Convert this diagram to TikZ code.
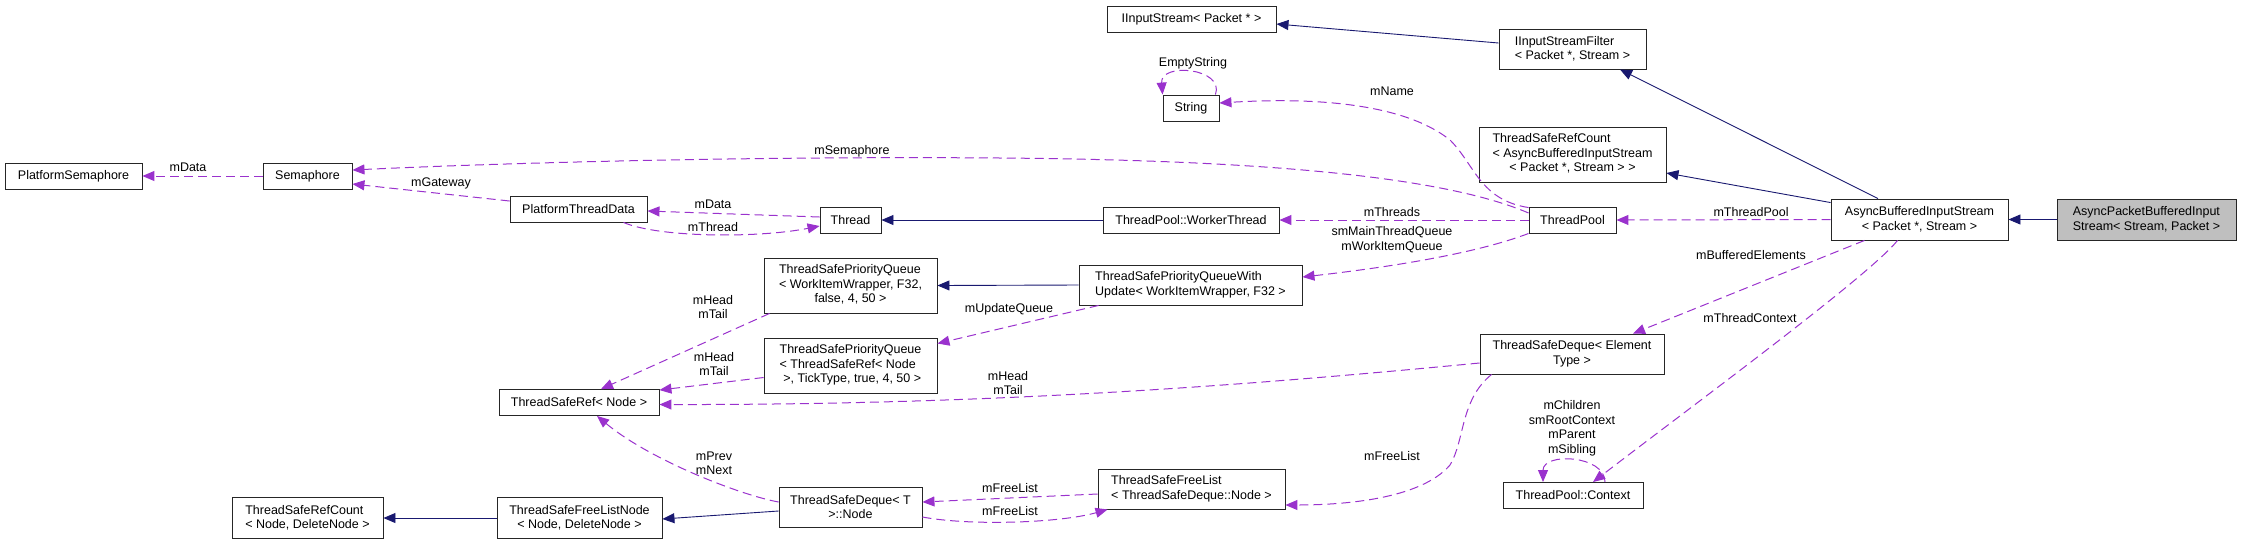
\documentclass[tikz,border=0pt]{standalone}
\usepackage{fontspec}
\setmainfont{Liberation Sans}
\usetikzlibrary{arrows.meta,calc}
\definecolor{inhcol}{HTML}{191970}
\definecolor{usecol}{HTML}{9A32CD}
\definecolor{rootfill}{HTML}{BFBFBF}
\begin{document}
\begin{tikzpicture}[x=1pt,y=-1pt,
  font=\fontsize{12.5}{14.5}\selectfont,
  box/.style args={#1/#2}{draw=black!85, line width=0.9pt, fill=white, rectangle, inner sep=0pt, minimum width=#1pt, minimum height=#2pt},
  inh/.style={draw=inhcol, line width=0.9pt, -{Triangle[length=12pt,width=10pt]}},
  use/.style={draw=usecol, line width=1.0pt, dash pattern=on 9pt off 5pt, -{Triangle[length=12pt,width=10pt]}},
  lbl/.style={inner sep=0pt, align=center}
]
\useasboundingbox (0,0) rectangle (2241,550);

% nodes
\node[box=137/26] (psem) at (73.5,176) {PlatformSemaphore};
\node[box=89/26] (sem) at (307.5,176) {Semaphore};
\node[box=137/26] (ptd) at (578.5,209) {PlatformThreadData};
\node[box=61/26] (thr) at (850.5,220) {Thread};
\node[box=176/26] (wt) at (1191,220) {ThreadPool::WorkerThread};
\node[box=87/26] (tp) at (1572.5,220) {ThreadPool};
\node[box=177/41, align=center] (abis) at (1919.5,219.5) {AsyncBufferedInputStream\\< Packet *, Stream >};
\node[box=179/41, fill=rootfill, align=left] (apbis) at (2146.5,219.5) {AsyncPacketBufferedInput\\Stream< Stream, Packet >};
\node[box=169/26] (iis) at (1191.5,19) {IInputStream< Packet * >};
\node[box=147/40, align=left] (iisf) at (1572.5,49) {IInputStreamFilter\\< Packet *, Stream >};
\node[box=56/26] (str) at (1191,108) {String};
\node[box=187/55] (trcA) at (1572.5,154.5) {\begin{tabular}{@{}l@{}}ThreadSafeRefCount\\< AsyncBufferedInputStream\\\multicolumn{1}{@{}c@{}}{< Packet *, Stream > >}\end{tabular}};
\node[box=173/55] (pqA) at (850.5,285.5) {\begin{tabular}{@{}l@{}}ThreadSafePriorityQueue\\< WorkItemWrapper, F32,\\\multicolumn{1}{@{}c@{}}{false, 4, 50 >}\end{tabular}};
\node[box=223/40, align=left] (pqwu) at (1190.5,285) {ThreadSafePriorityQueueWith\\Update< WorkItemWrapper, F32 >};
\node[box=173/55] (pqB) at (850.5,365.5) {\begin{tabular}{@{}l@{}}ThreadSafePriorityQueue\\< ThreadSafeRef< Node\\\multicolumn{1}{@{}c@{}}{\ >, TickType, true, 4, 50 >}\end{tabular}};
\node[box=160/26] (tsr) at (579,402.5) {ThreadSafeRef< Node >};
\node[box=184/40, align=center] (tsdE) at (1572,354) {ThreadSafeDeque< Element\\Type >};
\node[box=151/41, align=left] (trcN) at (307.5,518) {ThreadSafeRefCount\\< Node, DeleteNode >};
\node[box=165/41, align=center] (tfln) at (579.5,518) {ThreadSafeFreeListNode\\< Node, DeleteNode >};
\node[box=143/40, align=center] (tsdN) at (850.5,507) {ThreadSafeDeque< T\\>::Node};
\node[box=187/40, align=left] (tfl) at (1191.5,489) {ThreadSafeFreeList\\< ThreadSafeDeque::Node >};
\node[box=140/26] (ctx) at (1573,495.5) {ThreadPool::Context};

% inheritance
\draw[inh] (apbis.west) -- (abis.east);
\draw[inh] ($(abis.north)+(-41.5,0)$) -- ($(iisf.south)+(47.5,0)$);
\draw[inh] ($(abis.north west)+(0,4)$) -- ($(trcA.east)+(0,18.5)$);
\draw[inh] ($(iisf.west)+(0,-6)$) -- ($(iis.east)+(0,5)$);
\draw[inh] (wt.west) -- (thr.east);
\draw[inh] (pqwu.west) -- (pqA.east);
\draw[inh] (tfln.west) -- (trcN.east);
\draw[inh] ($(tsdN.west)+(0,4)$) -- ($(tfln.east)+(0,1)$);

% usage
\draw[use] (sem.west) -- (psem.east);
\node[lbl] (l1) at (188,167) {mData};

\draw[use] ($(tp.west)+(0,-7)$) .. controls (1440,175) and (1250,160) .. (1000,158) .. controls (750,156) and (500,163) .. ($(sem.east)+(0,-6)$);
\node[lbl] (l2) at (852,151) {mSemaphore};

\draw[use] ($(ptd.west)+(0,-8)$) -- ($(sem.east)+(0,8)$);
\node[lbl] (l3) at (441,183) {mGateway};

\draw[use] ($(thr.west)+(0,-3)$) -- ($(ptd.east)+(0,2)$);
\node[lbl] (l4) at (713,204) {mData};

\draw[use] ($(ptd.south)+(45,0)$) .. controls (660,238) and (760,238) .. ($(thr.west)+(0,6)$);
\node[lbl] (l5) at (713,227) {mThread};

\draw[use] (tp.west) -- (wt.east);
\node[lbl] (l6) at (1392,212) {mThreads};

\draw[use] ($(tp.north west)+(0,1)$) .. controls (1480,200) and (1475,165) .. (1450,140) .. controls (1400,100) and (1300,98) .. ($(str.east)+(0,-5)$);
\node[lbl] (l7) at (1392,91) {mName};

\draw[use] ($(str.north east)+(-4,0)$) .. controls (1225,68) and (1160,62) .. (str.north west);
\node[lbl] (l8) at (1193,63) {EmptyString};

\draw[use] (tp.south west) .. controls (1480,252) and (1400,266) .. ($(pqwu.east)+(0,-8)$);
\node[lbl] (l9) at (1392,239.5) {smMainThreadQueue\\mWorkItemQueue};

\draw[use] (abis.west) -- (tp.east);
\node[lbl] (l10) at (1751,212) {mThreadPool};

\draw[use] ($(abis.south)+(-55,0)$) -- ($(tsdE.north)+(61,0)$);
\node[lbl] (l11) at (1751,255) {mBufferedElements};

\draw[use] ($(abis.south)+(-22,0)$) .. controls (1870,275) and (1700,400) .. ($(ctx.north)+(20,0)$);
\node[lbl] (l12) at (1750,318) {mThreadContext};

\draw[use] ($(ctx.north)+(32,0)$) .. controls (1605,455) and (1543,452) .. ($(ctx.north)+(-30,0)$);
\node[lbl] (l13) at (1572,428.5) {mChildren\\smRootContext\\mParent\\mSibling};

\draw[use] ($(pqwu.south west)+(20,0)$) -- ($(pqB.east)+(0,-22)$);
\node[lbl] (l14) at (1009,309) {mUpdateQueue};

\draw[use] ($(pqA.south west)+(6,0)$) -- ($(tsr.north)+(22,0)$);
\node[lbl] (l15) at (713,307) {mHead\\mTail};

\draw[use] ($(pqB.west)+(0,12)$) -- ($(tsr.north east)+(0,1)$);
\node[lbl] (l16) at (714,364) {mHead\\mTail};

\draw[use] ($(tsdE.west)+(0,9)$) .. controls (1250,385) and (1000,405) .. ($(tsr.east)+(0,2)$);
\node[lbl] (l17) at (1008,383) {mHead\\mTail};

\draw[use] ($(tsdN.west)+(0,-5)$) .. controls (740,495) and (650,460) .. ($(tsr.south)+(18,0)$);
\node[lbl] (l18) at (714,463.5) {mPrev\\mNext};

\draw[use] ($(tsdE.south west)+(12,0)$) .. controls (1460,400) and (1465,440) .. (1450,465) .. controls (1420,500) and (1340,505) .. ($(tfl.east)+(0,16)$);
\node[lbl] (l19) at (1392,456) {mFreeList};

\draw[use] ($(tfl.west)+(0,5)$) -- ($(tsdN.east)+(0,-5)$);
\node[lbl] (l20) at (1010,488) {mFreeList};

\draw[use] ($(tsdN.east)+(0,10)$) .. controls (970,526) and (1060,523) .. ($(tfl.south west)+(10,0)$);
\node[lbl] (l21) at (1010,511) {mFreeList};
\end{tikzpicture}
\end{document}
